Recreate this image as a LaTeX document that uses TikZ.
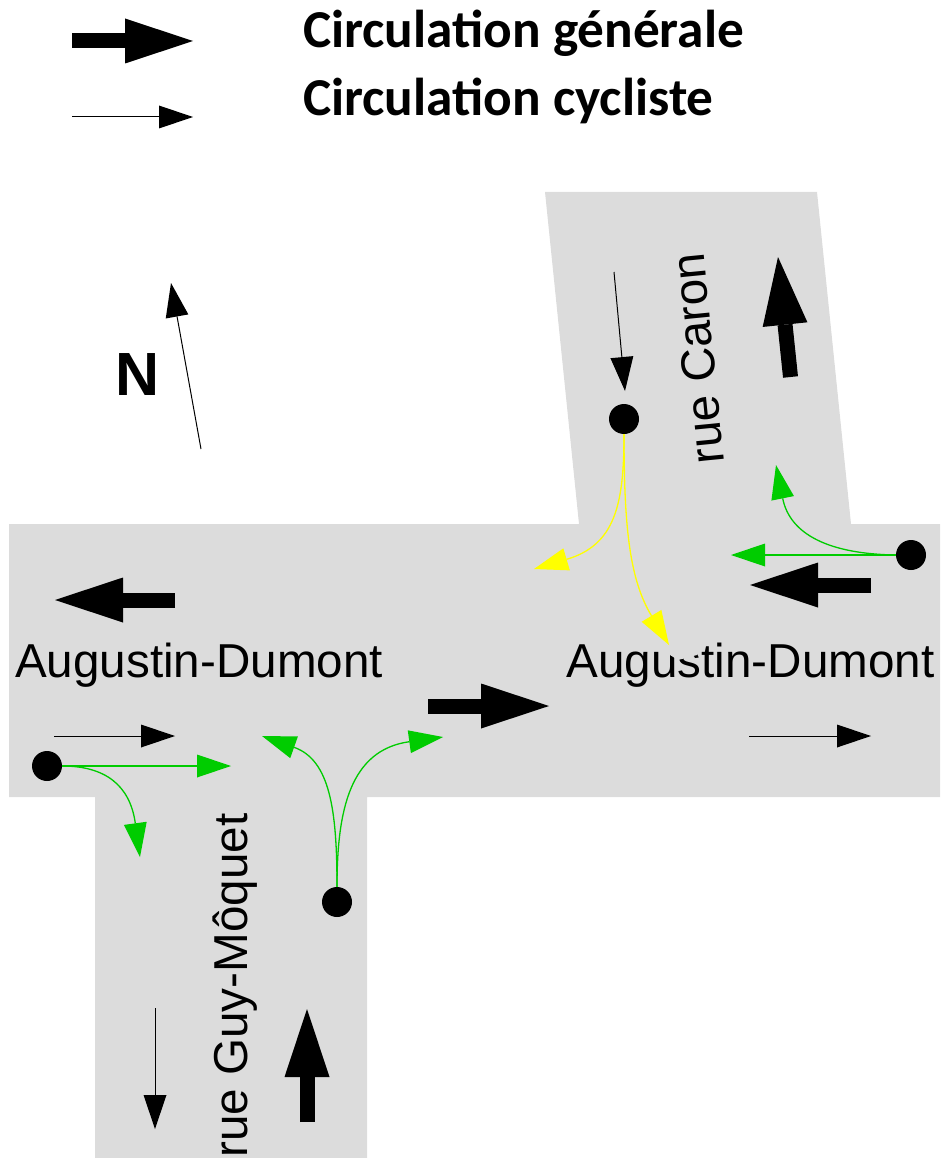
\documentclass[tikz,border=0pt]{standalone}
\usepackage{fontspec}
\setmainfont{Liberation Sans}
\newfontfamily\legendfont{Carlito}
\usetikzlibrary{arrows.meta}
\definecolor{road}{HTML}{DCDCDC}
\definecolor{vert}{HTML}{00CC00}
\definecolor{jaune}{HTML}{FFFF00}
\tikzset{
  fat/.style={line width=15pt,black,-{Triangle[length=68pt,width=45pt,line width=0pt]}},
  thin/.style={line width=1pt,black,-{Triangle[length=34pt,width=23pt,line width=0pt]}},
  greenarrow/.style={line width=1.3pt,vert,-{Triangle[length=34pt,width=23pt,line width=0pt]}},
  yellowarrow/.style={line width=1.3pt,jaune,-{Triangle[length=34pt,width=23pt,line width=0pt]}},
  dot/.style={circle,fill=black,inner sep=0pt,minimum size=30pt},
  street/.style={font=\fontsize{47.6}{52}\selectfont,inner sep=0pt},
  legendtext/.style={font=\legendfont\bfseries\fontsize{53.3}{58}\selectfont,inner sep=0pt,anchor=base west},
}
\begin{document}
\begin{tikzpicture}[x=1pt,y=-1pt]
\useasboundingbox (0,0) rectangle (940,1158);
% roads
\fill[road] (9,524) -- (579,524) -- (545,192) -- (817,192) -- (851,524) -- (940,524) -- (940,797) -- (367,797) -- (367,1158) -- (95,1158) -- (95,797) -- (9,797) -- cycle;
% free ends
\coordinate (l1a) at (72,41);  \coordinate (l1b) at (193,41);
\coordinate (l2a) at (72,117); \coordinate (l2b) at (193,117);
\coordinate (na) at (201,449); \coordinate (nb) at (171,283);
\coordinate (c1a) at (614,272); \coordinate (c1b) at (625,391);
\coordinate (c2a) at (790.5,377); \coordinate (c2b) at (778,257);
\coordinate (w1a) at (175,600); \coordinate (w1b) at (55,600);
\coordinate (w2a) at (871,585); \coordinate (w2b) at (750,585);
\coordinate (e1a) at (428,706); \coordinate (e1b) at (549,706);
\coordinate (e2a) at (54,736); \coordinate (e2b) at (175,736);
\coordinate (e3a) at (749,736); \coordinate (e3b) at (871,736);
\coordinate (s1a) at (155,1008); \coordinate (s1b) at (155,1129);
\coordinate (s2a) at (307,1122); \coordinate (s2b) at (307,1009);
\coordinate (g1) at (231,766); \coordinate (g2) at (140,857);
\coordinate (g3) at (262,736); \coordinate (g4) at (443,737);
\coordinate (g5) at (731,555); \coordinate (g6) at (776,465);
\coordinate (y1) at (534,569); \coordinate (y2) at (669,645);
% dots
\node[dot] (dn) at (624,419) {};
\node[dot] (de) at (911,555) {};
\node[dot] (dw) at (47,766) {};
\node[dot] (ds) at (337,902) {};
% labels
\node[legendtext] (t1) at (303,47.5) {Circulation générale};
\node[legendtext] (t2) at (303,115.5) {Circulation cycliste};
\node[font=\bfseries\fontsize{61}{63}\selectfont,inner sep=0pt] (tn) at (138,375) {N};
\node[street,anchor=base west] (aw) at (15,677) {Augustin-Dumont};
\node[street,anchor=base west] (ae) at (566.5,677) {Augustin-Dumont};
\node[street,rotate=95.6] (rc) at (697.5,358.5) {rue Caron};
\node[street,rotate=90] (rg) at (235,985.5) {rue Guy-Môquet};
% road-coloured patch over the label, next to the yellow tip
\fill[road] (669,645) -- (697,651) -- (697,655) -- (678,660) -- (670,655) -- cycle;
% arrows
\draw[fat] (l1a) -- (l1b);
\draw[thin] (l2a) -- (l2b);
\draw[thin] (na) -- (nb);
\draw[thin] (c1a) -- (c1b);
\draw[fat] (c2a) -- (c2b);
\draw[fat] (w1a) -- (w1b);
\draw[fat] (w2a) -- (w2b);
\draw[fat] (e1a) -- (e1b);
\draw[thin] (e2a) -- (e2b);
\draw[thin] (e3a) -- (e3b);
\draw[thin] (s1a) -- (s1b);
\draw[fat] (s2a) -- (s2b);
\draw[greenarrow] (dw.east) -- (g1);
\draw[greenarrow] (dw.east) .. controls (105,766) and (130,785) .. (g2);
\draw[greenarrow] (ds.north) .. controls (337,810) and (330,760) .. (g3);
\draw[greenarrow] (ds.north) .. controls (337,810) and (350,750) .. (g4);
\draw[greenarrow] (de.west) -- (g5);
\draw[greenarrow] (de.west) .. controls (830,554) and (790,535) .. (g6);
\draw[yellowarrow] (dn.south) .. controls (624,505) and (615,545) .. (y1);
\draw[yellowarrow] (dn.south) .. controls (624,530) and (630,580) .. (y2);
\end{tikzpicture}
\end{document}
